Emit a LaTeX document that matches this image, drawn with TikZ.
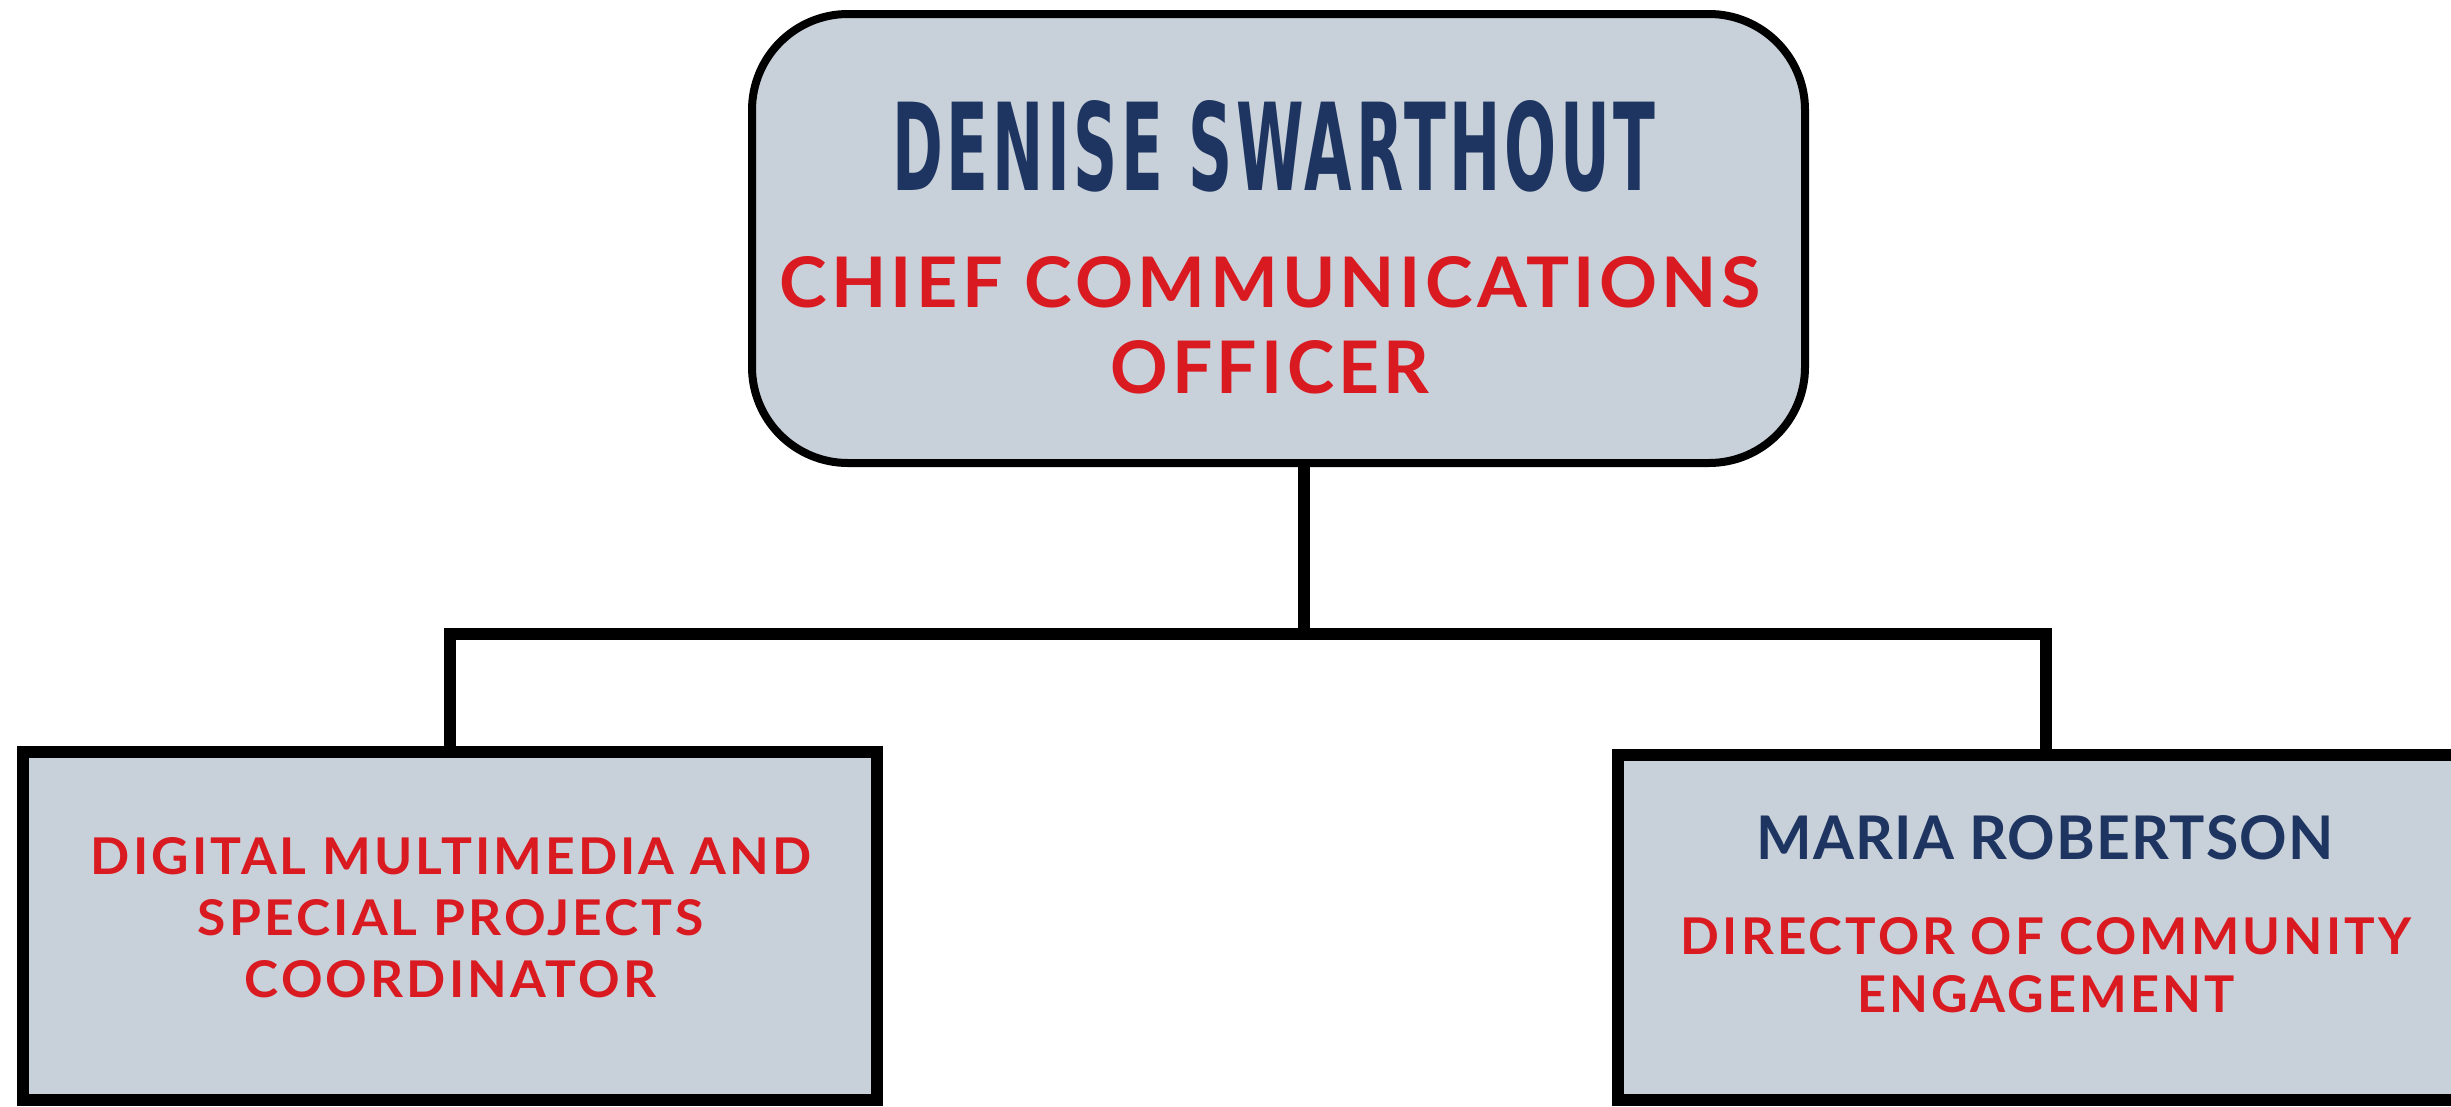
\documentclass[tikz,border=0pt]{standalone}
\usepackage{fontspec}
\usepackage{graphicx}
\setmainfont{Lato}
\newfontfamily\namefont{DejaVu Sans}[LetterSpace=6]
\newfontfamily\redfont{Lato}[LetterSpace=6]
\newfontfamily\navyfont{Lato}[LetterSpace=2]
\definecolor{navy}{HTML}{1E3561}
\definecolor{redt}{HTML}{DA1A21}
\definecolor{boxfill}{HTML}{C8D0D9}
\newcommand\fitline[3]{\resizebox{#1pt}{#2pt}{#3}}
\tikzset{
  topbox/.style={draw=black, fill=boxfill, line width=8pt, rounded corners=96pt, inner sep=0pt},
  subbox/.style={draw=black, fill=boxfill, line width=12pt, inner sep=0pt},
  conn/.style={draw=black, line width=12pt},
  txt/.style={anchor=base, inner sep=0pt, outer sep=0pt}
}
\begin{document}
\begin{tikzpicture}[x=1pt,y=-1pt]
\useasboundingbox (0,0) rectangle (2451,1106);
\clip (0,0) rectangle (2451,1106);
\fill[white] (0,0) rectangle (2451,1106);
% boxes
\node[topbox, minimum width=1053pt, minimum height=449pt] (top) at (1278.5,238.5) {};
\node[subbox, minimum width=854pt, minimum height=348pt] (left) at (450,926) {};
\node[subbox, minimum width=856pt, minimum height=345pt] (right) at (2046,927.5) {};
% connectors
\coordinate (jn) at (1304,634);
\draw[conn] (jn |- top.south) -- (jn);
\draw[conn] (left.north) |- (jn) -| (right.north);
% texts top
\node[txt] (t1) at (1274,190) {\color{navy}\namefont\bfseries\fitline{763}{90}{DENISE SWARTHOUT}};
\node[txt] (t2) at (1270,307) {\color{redt}\redfont\bfseries\fitline{981}{51}{CHIEF COMMUNICATIONS}};
\node[txt] (t3) at (1270,393) {\color{redt}\redfont\bfseries\fitline{319}{53}{OFFICER}};
% texts left
\node[txt] (l1) at (451,874) {\color{redt}\redfont\bfseries\fitline{720}{37}{DIGITAL MULTIMEDIA AND}};
\node[txt] (l2) at (451,935) {\color{redt}\redfont\bfseries\fitline{506}{36}{SPECIAL PROJECTS}};
\node[txt] (l3) at (450.5,997) {\color{redt}\redfont\bfseries\fitline{411}{37}{COORDINATOR}};
% texts right
\node[txt] (r1) at (2045,859) {\color{navy}\navyfont\bfseries\fitline{577}{44}{MARIA ROBERTSON}};
\node[txt] (r2) at (2046,954) {\color{redt}\redfont\bfseries\fitline{730}{37}{DIRECTOR OF COMMUNITY}};
\node[txt] (r3) at (2046,1012) {\color{redt}\redfont\bfseries\fitline{377}{37}{ENGAGEMENT}};
\end{tikzpicture}
\end{document}
